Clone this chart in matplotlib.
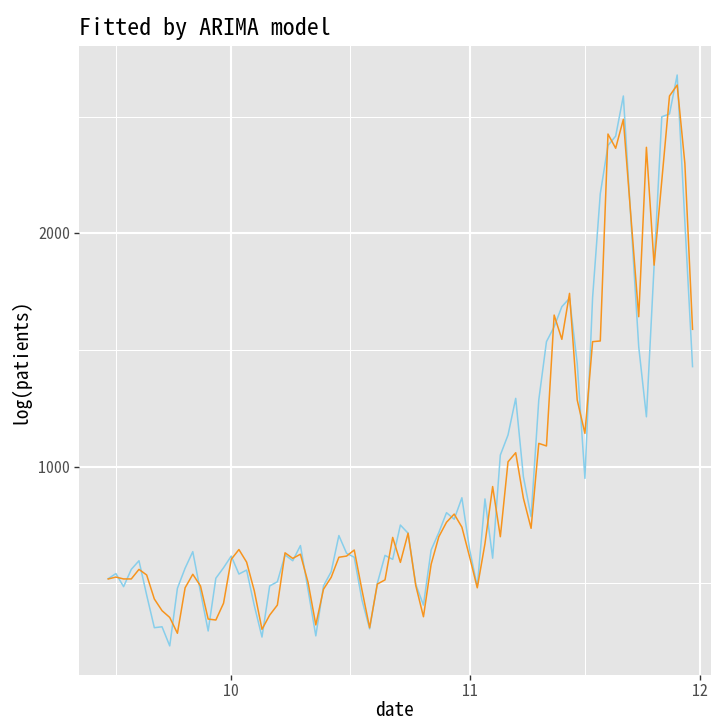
import matplotlib
matplotlib.use("Agg")
import matplotlib.pyplot as plt
import matplotlib.dates as mdates
import numpy as np
import pandas as pd

# daily counts, 2020-09-15 .. 2020-11-30
dates = pd.date_range("2020-09-15", "2020-11-30", freq="D")

actual = [
    520, 542, 486, 560, 597, 450, 310, 314, 232, 479,
    565, 636, 464, 296, 522, 567, 617, 540, 557, 405,
    270, 489, 507, 622, 597, 662, 471, 275, 489, 550,
    705, 629, 612, 429, 305, 500, 620, 603, 750, 715,
    496, 407, 643, 718, 803, 775, 867, 646, 486, 862,
    608, 1050, 1136, 1293, 957, 786, 1286, 1536, 1600, 1686,
    1722, 1443, 950, 1725, 2170, 2377, 2417, 2589, 2050, 1514,
    1214, 1862, 2500, 2512, 2679, 2050, 1429,
]

fitted = [
    519, 527, 519, 519, 560, 536, 433, 383, 354, 286,
    481, 539, 489, 347, 343, 415, 603, 645, 591, 468,
    303, 364, 407, 631, 607, 625, 503, 322, 475, 526,
    612, 617, 643, 472, 310, 497, 515, 697, 590, 715,
    491, 357, 582, 700, 762, 797, 741, 614, 481, 670,
    915, 700, 1021, 1060, 865, 736, 1100, 1089, 1650, 1546,
    1743, 1286, 1143, 1536, 1539, 2426, 2365, 2489, 2065, 1643,
    2369, 1864, 2226, 2589, 2636, 2300, 1589,
]

y_major = [1000, 2000]
y_minor = [500, 1500, 2500]

font = ["Noto Sans Mono CJK JP", "DejaVu Sans Mono"]
plt.rcParams["font.family"] = font

fig = plt.figure(figsize=(7.13, 7.24), dpi=100)
ax = fig.add_axes([79 / 713, 48.7 / 724, 632 / 713, 629 / 724])
ax.set_facecolor("#E5E5E5")
for s in ax.spines.values():
    s.set_visible(False)

ax.plot(dates, actual, color="#87CEEB", lw=1.1, zorder=3)
ax.plot(dates, fitted, color="#F7941D", lw=1.1, zorder=4)

# x range: data span plus ggplot-style padding
x0 = mdates.date2num(dates[0])
x1 = mdates.date2num(dates[-1])
ax.set_xlim(x0 - 3.8, x1 + 2.4)
ax.set_ylim(106, 2802)

month_starts = pd.to_datetime(["2020-09-01", "2020-10-01", "2020-11-01", "2020-12-01"])
ms = mdates.date2num(month_starts)
ax.xaxis.set_major_locator(mdates.MonthLocator())
ax.xaxis.set_major_formatter(mdates.DateFormatter("%-m"))
ax.xaxis.set_minor_locator(matplotlib.ticker.FixedLocator((ms[:-1] + ms[1:]) / 2))
ax.set_yticks(y_major)
ax.set_yticks(y_minor, minor=True)

ax.grid(which="major", color="white", lw=1.5)
ax.grid(which="minor", color="white", lw=0.75)
ax.set_axisbelow(True)
ax.tick_params(which="major", length=3.5, width=1.0, color="#333333",
               labelcolor="#4D4D4D", labelsize=11.5, pad=3)
ax.tick_params(which="minor", length=0)

ax.set_xlabel("date", fontsize=14, labelpad=1)
ax.set_ylabel("log(patients)", fontsize=14, labelpad=6)
ax.set_title("Fitted by ARIMA model", fontsize=17.3, loc="left", pad=8)

fig.savefig("out.png", dpi=100)
